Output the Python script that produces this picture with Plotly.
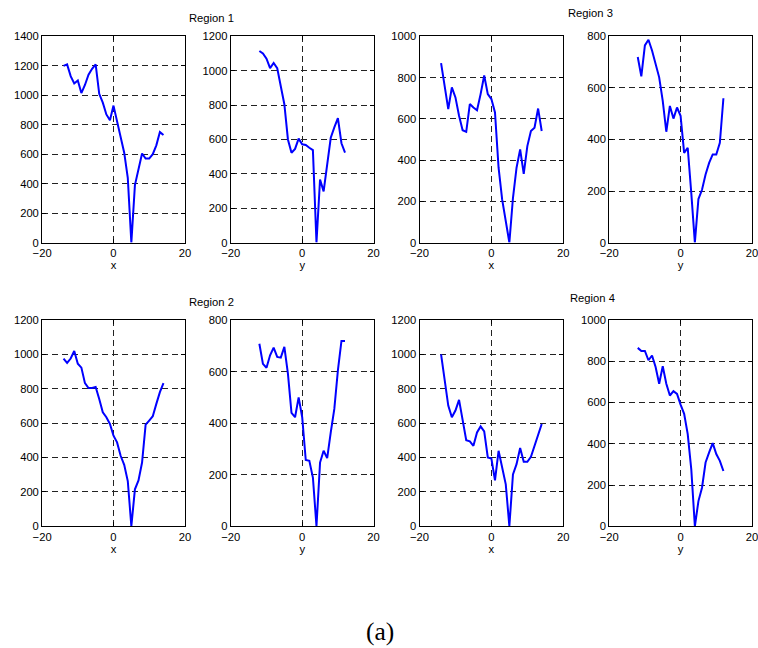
import plotly.graph_objects as go

# ---- data ----
x_coords = list(range(-14, 15))
y_coords = list(range(-12, 13))

r1_x = [1200, 1210, 1130, 1080, 1100, 1015, 1070, 1140, 1180, 1210, 1010, 950, 870, 830, 930,
        820, 720, 610, 440, 0, 390, 510, 605, 570, 570, 600, 660, 750, 730]
r1_y = [1115, 1100, 1070, 1015, 1045, 1015, 910, 805, 600, 523, 545, 605, 572,
        568, 552, 538, 0, 367, 298, 465, 610, 670, 724, 578, 523]
r3_x = [870, 760, 647, 753, 704, 615, 545, 537, 672, 655, 642, 720, 810, 720, 696,
        631, 363, 208, 110, 0, 216, 363, 452, 333, 468, 541, 557, 650, 541]
r3_y = [720, 645, 765, 787, 745, 693, 641, 550, 430, 530, 481, 524, 492,
        348, 368, 192, 0, 169, 205, 264, 309, 342, 342, 387, 560]
r2_x = [975, 950, 976, 1020, 946, 923, 833, 804, 804, 810, 741, 663, 634, 595, 527,
        488, 410, 357, 263, 0, 215, 267, 371, 591, 615, 640, 712, 780, 833]
r2_y = [708, 630, 615, 663, 693, 657, 654, 696, 592, 440, 423, 500, 423,
        257, 254, 189, 0, 247, 293, 264, 364, 455, 605, 719, 719]
r4_x = [1000, 849, 702, 634, 673, 735, 605, 501, 494, 468, 546, 581, 552, 400, 394,
        267, 439, 341, 244, 0, 302, 361, 455, 375, 375, 404, 468, 527, 595]
r4_y = [865, 850, 850, 805, 828, 772, 691, 776, 691, 634, 655, 642, 590,
        545, 447, 276, 0, 122, 187, 309, 358, 403, 350, 317, 268]

panels = [
    # (x data, y data, y max, axis label)
    (x_coords, r1_x, 1400, "x"),
    (y_coords, r1_y, 1200, "y"),
    (x_coords, r3_x, 1000, "x"),
    (y_coords, r3_y, 800, "y"),
    (x_coords, r2_x, 1200, "x"),
    (y_coords, r2_y, 800, "y"),
    (x_coords, r4_x, 1200, "x"),
    (y_coords, r4_y, 1000, "y"),
]

# Empirically the photographed page is the body (8px default margin) seen at ~0.978 scale.
W, H = 764, 654
OFF = 8
SX, SY = 758 / 774, 648 / 664
FS = 1 / SX  # font compensation

col_px = [(40, 183), (229, 372), (418, 562), (608, 751)]
row_px = [(38, 243), (320, 525)]


def fx(p):
    target = 12 + (p - 12) * 744 / 745
    return target / SX - OFF


def fy(p):
    return p / SY - OFF


def px(p):
    return min(1.0, max(0.0, fx(p) / W))


def py(p):
    return min(1.0, max(0.0, 1 - fy(p) / H))


fig = go.Figure()
layout = dict(
    width=W, height=H, margin=dict(l=0, r=0, t=0, b=0),
    paper_bgcolor="white", plot_bgcolor="white", showlegend=False,
    font=dict(family="Liberation Sans, Arial, sans-serif", size=11 * FS, color="black"),
)

for i, (xs, ys, ymax, lab) in enumerate(panels):
    r, c = divmod(i, 4)
    n = i + 1
    xa = "x" if n == 1 else f"x{n}"
    ya = "y" if n == 1 else f"y{n}"
    fig.add_trace(go.Scatter(x=xs, y=ys, mode="lines", xaxis=xa, yaxis=ya,
                             line=dict(color="#0000FF", width=2)))
    x0, x1 = col_px[c]
    t, b = row_px[r]
    common = dict(showline=True, linecolor="black", linewidth=1, mirror="ticks",
                  ticks="inside", ticklen=4, tickcolor="black",
                  showgrid=True, gridcolor="#222222", gridwidth=1, griddash="6px,4px",
                  zeroline=False, tickfont=dict(size=11 * FS))
    layout["xaxis" if n == 1 else f"xaxis{n}"] = dict(
        domain=[px(x0), px(x1)], anchor=ya, range=[-20, 20], tickvals=[-20, 0, 20],
        title=dict(text=lab, font=dict(size=11 * FS), standoff=2), **common)
    layout["yaxis" if n == 1 else f"yaxis{n}"] = dict(
        domain=[py(b), py(t)], anchor=xa, range=[0, ymax], dtick=200,
        **common)

fig.update_layout(**layout)

titles = [("Region 1", 210, 20), ("Region 3", 589, 15), ("Region 2", 210, 302), ("Region 4", 591, 298)]
for txt, x, y in titles:
    fig.add_annotation(text=txt, x=px(x), y=py(y), xref="paper", yref="paper",
                       xanchor="center", yanchor="middle",
                       showarrow=False, font=dict(size=11 * FS, color="black"))

fig.add_annotation(text="(a)", x=px(378), y=py(630), xref="paper", yref="paper",
                   xanchor="center", yanchor="middle", showarrow=False,
                   font=dict(family="Liberation Serif, Times New Roman, serif", size=25 * FS,
                             color="black"))

fig.write_html("out.html")
